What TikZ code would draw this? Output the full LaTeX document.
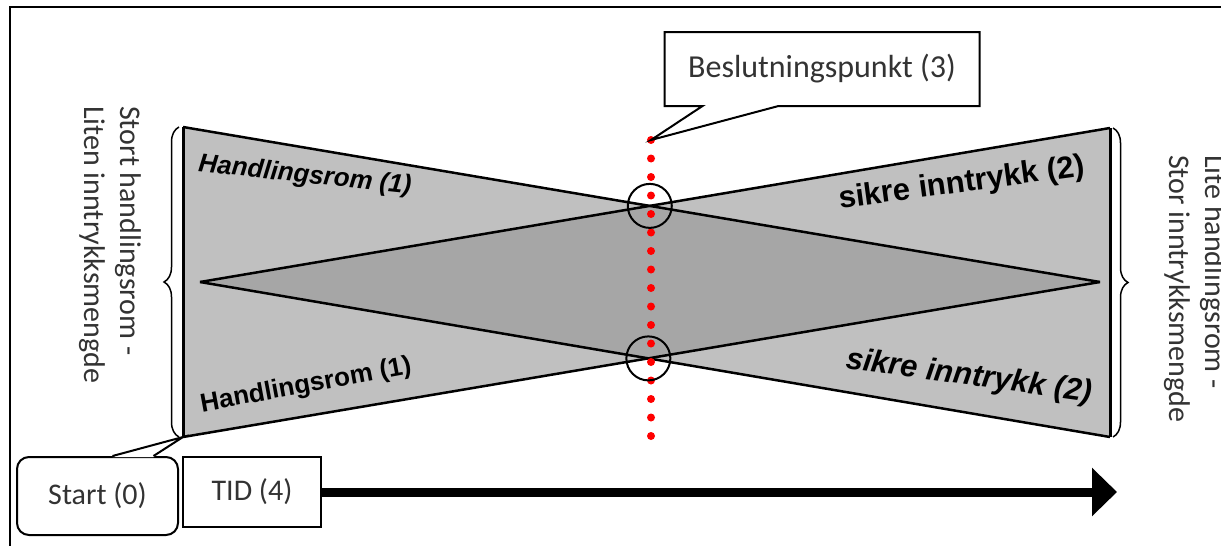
\documentclass[tikz,border=0pt]{standalone}
\usepackage{fontspec}
\setmainfont{Carlito}
\newfontfamily\arialfont{Liberation Sans}
\usetikzlibrary{arrows.meta,shapes.callouts,decorations.pathreplacing}
\definecolor{flatelys}{HTML}{C0C0C0}
\definecolor{flatemork}{HTML}{A6A6A6}
\definecolor{tekstgraa}{HTML}{333333}
\tikzset{
  boks/.style={draw, line width=2pt, fill=white, text=tekstgraa, font=\fontsize{30}{36}\selectfont, inner sep=0pt},
  sidetekst/.style={text=tekstgraa, font=\fontsize{30}{36}\selectfont, inner sep=0pt, align=left, rotate=-90, anchor=west},
  etikett/.style={inner sep=0pt},
  kant/.style={line width=2.5pt},
  krets/.style={circle, draw, line width=2pt, minimum size=44pt, inner sep=0pt},
  klamme/.style={decorate, decoration={brace, amplitude=15pt}, line width=1.5pt}
}
\newcommand{\etfont}{\arialfont\bfseries\fontsize{26}{30}\selectfont}
\newcommand{\sifont}{\arialfont\bfseries\fontsize{31}{36}\selectfont}
\begin{document}
\begin{tikzpicture}[x=1pt,y=-1pt]
\useasboundingbox (0,0) rectangle (1221,546);
\clip (0,0) rectangle (1221,546);
\draw[line width=2pt] (10,560) -- (10,7) -- (1240,7);
\coordinate (tl) at (183,127);
\coordinate (bl) at (183,437);
\coordinate (ml) at (200,282);
\coordinate (tr) at (1110,128);
\coordinate (br) at (1110,437);
\coordinate (mr) at (1100,282);
\coordinate (xt) at (intersection of tl--mr and ml--tr);
\coordinate (xb) at (intersection of bl--mr and ml--br);
\fill[flatelys] (tl) -- (mr) -- (bl) -- cycle;
\fill[flatelys] (tr) -- (ml) -- (br) -- cycle;
\fill[flatemork] (ml) -- (xt) -- (mr) -- (xb) -- cycle;
\draw[kant] (tl) -- (mr);
\draw[kant] (bl) -- (mr);
\draw[kant] (ml) -- (tr);
\draw[kant] (ml) -- (br);
\draw[line width=3pt] (tl) -- (bl);
\draw[line width=3pt] (tr) -- (br);
\draw[klamme] ([xshift=-4pt]bl) -- ([xshift=-4pt]tl);
\draw[klamme] ([xshift=3pt]tr) -- ([xshift=3pt]br);
\node[etikett, rotate=-6] (hr1) at (305,176) {\etfont\itshape Handlingsrom (1)};
\node[etikett, rotate=10.5] (hr2) at (306,386) {\etfont Handlingsrom (1)};
\node[etikett, rotate=7.7] (si1) at (962,184) {\sifont sikre inntrykk (2)};
\node[etikett, rotate=-7.8] (si2) at (969,377) {\sifont\itshape sikre inntrykk (2)};
\node[sidetekst] (venstre) at (110,106) {Stort handlingsrom -\\Liten inntrykksmengde};
\node[sidetekst] (hoyre) at (1195,155) {Lite handlingsrom -\\Stor inntrykksmengde};
\coordinate (rodtopp) at (651,140);
\coordinate (rodbunn) at (651,436);
\draw[red, line width=8pt, line cap=round, dash pattern=on 0pt off 18.5pt] (rodtopp) -- (rodbunn);
\node[krets] (sirkel1) at (xt) {};
\node[krets] (sirkel2) at (xb) {};
\node[boks, rectangle callout, callout absolute pointer=(rodtopp), callout pointer width=76pt, minimum width=315pt, minimum height=74pt, font=\fontsize{32}{38}\selectfont] (beslut) at (822,69) {Beslutningspunkt (3)};
\node[boks, rounded corners=12pt, minimum width=161pt, minimum height=78pt] (start) at (97.5,496) {Start (0)};
\fill[white] ([xshift=15pt,yshift=-1pt]start.north) -- (bl) -- ([xshift=56pt,yshift=-1pt]start.north) -- cycle;
\draw[line width=2pt] ([xshift=15pt]start.north) -- (bl) -- ([xshift=56pt]start.north);
\node[boks, minimum width=138pt, minimum height=70pt] (tid) at (252,492) {TID (4)};
\coordinate (pil) at (1117,492);
\draw[line width=9pt, -{Triangle[length=25pt,width=47pt]}] (tid.east) -- (pil);
\end{tikzpicture}
\end{document}
